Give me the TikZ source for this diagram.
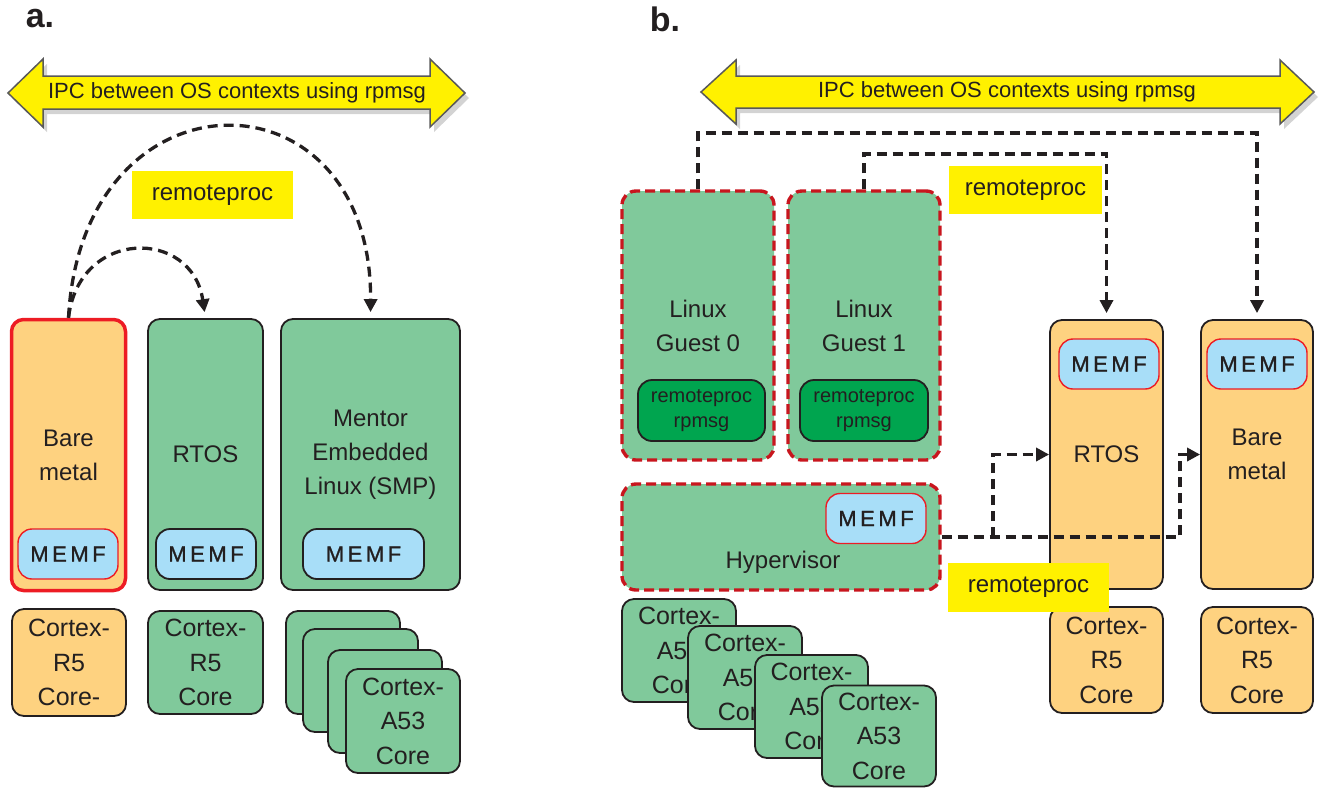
\documentclass[tikz,border=0pt]{standalone}
\usepackage{fontspec}
\setmainfont{Liberation Sans}
\newfontfamily\memffamily[LetterSpace=16,FakeBold=1.2]{Liberation Sans}
\usetikzlibrary{arrows.meta,shadows}
\definecolor{orangebox}{HTML}{FED280}
\definecolor{greenbox}{HTML}{80C99B}
\definecolor{darkgreen}{HTML}{00A54F}
\definecolor{lightblue}{HTML}{A8DEF8}
\definecolor{ipcyellow}{HTML}{FFF100}
\definecolor{brightred}{HTML}{ED1C24}
\definecolor{dashred}{HTML}{C8161E}
\definecolor{stroke}{HTML}{231F20}
\newcommand\lblfont{\fontsize{24}{34}\selectfont}
\newcommand\corefont{\fontsize{25}{34.5}\selectfont}
\newcommand\smallfont{\fontsize{20}{25}\selectfont}
\newcommand\ipcfont{\fontsize{22}{26}\selectfont}
\newcommand\memffont{\memffamily\fontsize{22}{26}\selectfont}
\tikzset{
  osbox/.style={draw=stroke, line width=1.8pt, rounded corners=12pt, inner sep=0pt, align=center, font=\lblfont, text=stroke},
  grn/.style={osbox, fill=greenbox},
  org/.style={osbox, fill=orangebox},
  corebox/.style={osbox, font=\corefont},
  guest/.style={draw=dashred, fill=greenbox, line width=3.4pt, dash pattern=on 10pt off 5pt, rounded corners=14pt, inner sep=0pt, align=center, font=\lblfont, text=stroke},
  memfbox/.style={draw=stroke, line width=1.8pt, fill=lightblue, rounded corners=14pt, inner sep=0pt, font=\memffont, text=stroke, minimum width=100pt, minimum height=50pt},
  memfred/.style={memfbox, draw=brightred, line width=1.4pt},
  rpbox/.style={draw=stroke, line width=1.8pt, fill=darkgreen, rounded corners=14pt, inner sep=0pt, align=center, font=\smallfont, text=stroke},
  ylabel/.style={fill=ipcyellow, inner sep=0pt, font=\lblfont, text=stroke},
  ipcarrow/.style={draw=black!65, line width=1.5pt, fill=ipcyellow, line join=miter, drop shadow={shadow xshift=4pt, shadow yshift=-5pt, opacity=0.35}},
  dconn/.style={draw=stroke, line width=3.3pt, dash pattern=on 10pt off 6pt},
  tip/.style={-{Triangle[width=13pt,length=13pt]}},
  panel/.style={font=\fontsize{34}{40}\selectfont\bfseries, text=stroke}
}
\begin{document}
\begin{tikzpicture}[x=1pt,y=-1pt]
\useasboundingbox (0,0) rectangle (1319,788);

% ---------- panel a ----------
\node[panel] (la) at (40,19) {a.};
\path[ipcarrow] (8,93) -- (43,59) -- (43,76) -- (430,76) -- (430,59) -- (465,93) -- (430,127) -- (430,109) -- (43,109) -- (43,127) -- cycle;
\node[font=\ipcfont, text=stroke] (ipcA) at (237,93) {IPC between OS contexts using rpmsg};
\node[ylabel, minimum width=161pt, minimum height=48pt] (rpA) at (212.5,195) {remoteproc};

\node[org, draw=brightred, line width=3.5pt, minimum width=114pt, minimum height=271pt] (bareA) at (68.5,455) {Bare\\metal};
\node[grn, minimum width=115pt, minimum height=271pt] (rtosA) at (205.5,454.5) {RTOS};
\node[grn, minimum width=179pt, minimum height=271pt] (mentor) at (370.5,454.5) {Mentor\\Embedded\\Linux (SMP)};
\node[memfred] (memfA1) at (68,554) {MEMF};
\node[memfbox] (memfA2) at (206,554) {MEMF};
\node[memfbox, minimum width=121pt] (memfA3) at (363.5,554) {MEMF};

\node[corebox, fill=orangebox, minimum width=114pt, minimum height=107pt] (coreA1) at (69,662.5) {Cortex-\\R5\\Core-};
\node[corebox, fill=greenbox, minimum width=115pt, minimum height=103pt] (coreA2) at (205.5,662.5) {Cortex-\\R5\\Core};
\node[corebox, fill=greenbox, minimum width=114pt, minimum height=103pt] (sa1) at (343,662.5) {};
\node[corebox, fill=greenbox, minimum width=115pt, minimum height=103pt] (sa2) at (360.5,680.5) {};
\node[corebox, fill=greenbox, minimum width=114pt, minimum height=103pt] (sa3) at (385,701.5) {};
\node[corebox, fill=greenbox, minimum width=114pt, minimum height=104pt] (sa4) at (403,721) {Cortex-\\A53\\Core};

\draw[dconn, tip, shorten >=6pt] (bareA.north) .. controls (82,64) and (372,64) .. (mentor.north);
\draw[dconn, tip, shorten >=6pt] (bareA.north) .. controls (79,228) and (192,228) .. (rtosA.north);

% ---------- panel b ----------
\node[panel] (lb) at (665,19) {b.};
\path[ipcarrow] (701,92) -- (736,60) -- (736,76) -- (1280,76) -- (1280,60) -- (1314,92) -- (1280,124) -- (1280,108) -- (736,108) -- (736,124) -- cycle;
\node[font=\ipcfont, text=stroke] (ipcB) at (1007,92) {IPC between OS contexts using rpmsg};

\node[guest, minimum width=152pt, minimum height=269pt] (g0) at (698,325.5) {Linux\\Guest 0};
\node[guest, minimum width=152pt, minimum height=269pt] (g1) at (864,325.5) {Linux\\Guest 1};
\node[rpbox, minimum width=127pt, minimum height=61pt] (rp0) at (701.5,410.5) {remoteproc\\rpmsg};
\node[rpbox, minimum width=128pt, minimum height=61pt] (rp1) at (864,410.5) {remoteproc\\rpmsg};
\node[guest, minimum width=318pt, minimum height=106pt] (hyp) at (781,537) {};
\node[font=\lblfont, text=stroke] (hyplbl) at (783,562) {Hypervisor};
\node[memfred] (memfH) at (876,518.5) {MEMF};

\node[org, minimum width=113pt, minimum height=269pt] (rtosB) at (1106.5,454.5) {RTOS};
\node[org, minimum width=112pt, minimum height=269pt] (bareB) at (1257,454.5) {Bare\\metal};
\node[memfred] (memfR) at (1109,364) {MEMF};
\node[memfred] (memfB) at (1257,364) {MEMF};
\node[corebox, fill=orangebox, minimum width=113pt, minimum height=106pt] (coreR) at (1106.5,660) {Cortex-\\R5\\Core};
\node[corebox, fill=orangebox, minimum width=112pt, minimum height=106pt] (coreB) at (1257,660) {Cortex-\\R5\\Core};

\node[corebox, fill=greenbox, minimum width=114pt, minimum height=103pt] (sb1) at (679,650.5) {Cortex-\\A53\\Core};
\node[corebox, fill=greenbox, minimum width=114pt, minimum height=103pt] (sb2) at (745,677.5) {Cortex-\\A53\\Core};
\node[corebox, fill=greenbox, minimum width=113pt, minimum height=103pt] (sb3) at (811.5,706.5) {Cortex-\\A53\\Core};
\node[corebox, fill=greenbox, minimum width=114pt, minimum height=101pt] (sb4) at (879,736) {Cortex-\\A53\\Core};

\node[ylabel, minimum width=153pt, minimum height=48pt] (rpB1) at (1025.5,190) {remoteproc};

\coordinate (y1) at (0,133);
\coordinate (y2) at (0,154);
\coordinate (hj) at (1180,537);
\coordinate (hk) at (993,537);
\draw[dconn, tip, shorten >=6pt] (g0.north) |- (bareB.north |- y1) -- (bareB.north);
\draw[dconn, tip, shorten >=6pt] (g1.north) |- (rtosB.north |- y2) -- (rtosB.north);
\draw[dconn, tip] (hyp.east) -- (hj) |- (bareB.west);
\draw[dconn, tip] (hk) |- (rtosB.west);

\node[ylabel, minimum width=161pt, minimum height=49pt] (rpB2) at (1028.5,587.5) {remoteproc};
\end{tikzpicture}
\end{document}
